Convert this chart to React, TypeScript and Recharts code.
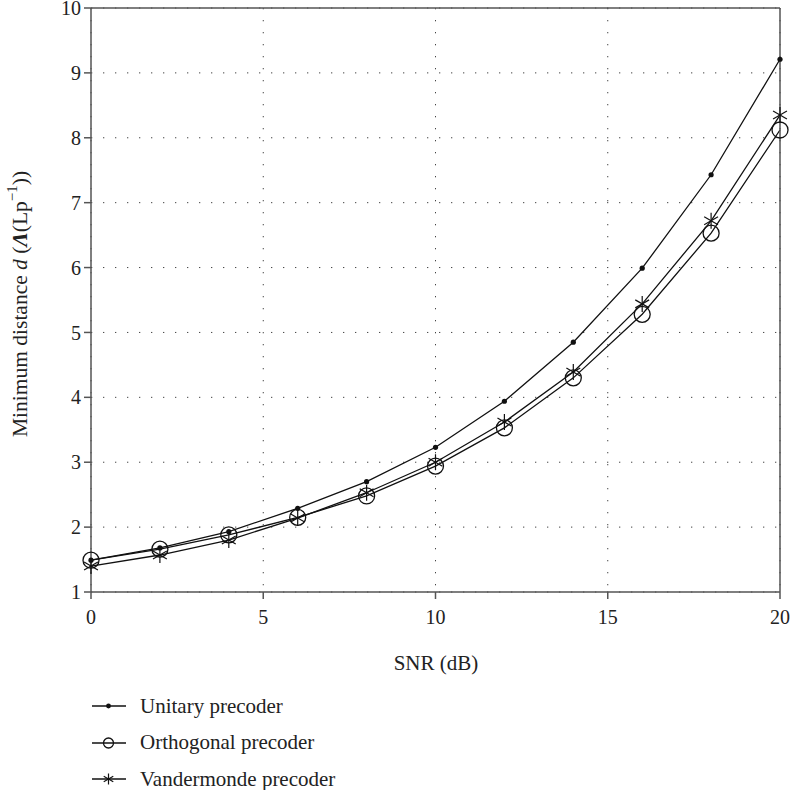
import React from 'react';
import { LineChart, Line, XAxis, YAxis, CartesianGrid } from 'recharts';

const snr = [0, 2, 4, 6, 8, 10, 12, 14, 16, 18, 20];
const unitary = [1.49, 1.68, 1.93, 2.29, 2.7, 3.23, 3.94, 4.85, 5.99, 7.43, 9.21];
const orthogonal = [1.49, 1.66, 1.88, 2.15, 2.48, 2.94, 3.53, 4.3, 5.28, 6.53, 8.12];
const vandermonde = [1.4, 1.57, 1.8, 2.14, 2.53, 3.0, 3.62, 4.39, 5.44, 6.72, 8.35];
const xTicks = [0, 5, 10, 15, 20];
const yTicks = [1, 2, 3, 4, 5, 6, 7, 8, 9, 10];
const seriesNames = ['Unitary precoder', 'Orthogonal precoder', 'Vandermonde precoder'];

const data = snr.map((s, i) => ({ snr: s, u: unitary[i], o: orthogonal[i], v: vandermonde[i] }));

const FONT = '"Liberation Serif", "DejaVu Serif", serif';
const AX = '#555';
const TXT = '#222';

const DotMark = (p: any) => <circle cx={p.cx} cy={p.cy} r={p.size ?? 2.6} fill="#111" />;
const CircleMark = (p: any) => <circle cx={p.cx} cy={p.cy} r={p.size ?? 8} fill="none" stroke="#111" strokeWidth={1.3} />;
const StarMark = (p: any) => {
  const { cx, cy } = p;
  const r = p.size ?? 8;
  const a = Math.PI / 6;
  return (
    <g stroke="#111" strokeWidth={1.2}>
      <line x1={cx} y1={cy - r} x2={cx} y2={cy + r} />
      <line x1={cx - r * Math.cos(a)} y1={cy - r * Math.sin(a)} x2={cx + r * Math.cos(a)} y2={cy + r * Math.sin(a)} />
      <line x1={cx - r * Math.cos(a)} y1={cy + r * Math.sin(a)} x2={cx + r * Math.cos(a)} y2={cy - r * Math.sin(a)} />
    </g>
  );
};

const marks = [DotMark, CircleMark, StarMark];
const legendR = [2.4, 5, 5.5];

const LegendBlock = () => (
  <div style={{ position: 'absolute', left: 92, top: 688, fontFamily: FONT, fontSize: 21, color: TXT }}>
    {seriesNames.map((n, i) => {
      const M = marks[i];
      return (
        <div key={n} style={{ display: 'flex', alignItems: 'center', height: 36.5 }}>
          <svg width={48} height={20}>
            <line x1={0} y1={10} x2={34} y2={10} stroke="#111" strokeWidth={1.3} />
            <M cx={16.5} cy={10} size={legendR[i]} />
          </svg>
          <span style={{ lineHeight: 1 }}>{n}</span>
        </div>
      );
    })}
  </div>
);

const YLabel = () => {
  const cx = 20;
  const cy = 304;
  return (
    <text x={cx} y={cy} transform={`rotate(-90 ${cx} ${cy})`} textAnchor="middle" dominantBaseline="central" fontFamily={FONT} fontSize={21.5} fill={TXT}>
      Minimum distance <tspan fontStyle="italic">d</tspan> (<tspan fontStyle="italic" fontWeight="bold">Λ</tspan>(Lp<tspan baselineShift="super" fontSize={15}>−1</tspan>))
    </text>
  );
};

export default function App() {
  return (
    <div style={{ position: 'absolute', left: 0, top: 0, width: 793, height: 790, background: '#fff' }}>
      <LineChart width={793} height={790} data={data} margin={{ top: 7, right: 12, left: 31, bottom: 158 }}>
        <CartesianGrid stroke="#444" strokeDasharray="1.3 10.7" vertical horizontal />
        <XAxis
          dataKey="snr"
          type="number"
          domain={[0, 20]}
          ticks={xTicks}
          height={40}
          axisLine={{ stroke: AX, strokeWidth: 1.5 }}
          tickLine={{ stroke: AX, strokeWidth: 1.5 }}
          tickSize={7}
          tickMargin={11}
          tick={{ fontFamily: FONT, fontSize: 20, fill: TXT }}
          interval={0}
        />
        <XAxis xAxisId="top" dataKey="snr" type="number" domain={[0, 20]} orientation="top" height={1} tick={false} tickLine={false} axisLine={{ stroke: AX, strokeWidth: 1.5 }} />
        <YAxis
          type="number"
          domain={[1, 10]}
          ticks={yTicks}
          width={60}
          axisLine={{ stroke: AX, strokeWidth: 1.5 }}
          tickLine={{ stroke: AX, strokeWidth: 1.5 }}
          tickSize={7}
          tickMargin={3}
          tick={{ fontFamily: FONT, fontSize: 20, fill: TXT }}
          interval={0}
          label={<YLabel />}
        />
        <YAxis yAxisId="right" orientation="right" type="number" domain={[1, 10]} width={1} tick={false} tickLine={false} axisLine={{ stroke: AX, strokeWidth: 1.5 }} />
        <Line dataKey="u" name={seriesNames[0]} stroke="#111" strokeWidth={1.3} dot={<DotMark />} activeDot={false} isAnimationActive={false} />
        <Line dataKey="o" name={seriesNames[1]} stroke="#111" strokeWidth={1.3} dot={<CircleMark />} activeDot={false} isAnimationActive={false} />
        <Line dataKey="v" name={seriesNames[2]} stroke="#111" strokeWidth={1.3} dot={<StarMark />} activeDot={false} isAnimationActive={false} />
        <text x={436} y={663} textAnchor="middle" dominantBaseline="central" fontFamily={FONT} fontSize={21} fill={TXT}>SNR (dB)</text>
      </LineChart>
      <LegendBlock />
    </div>
  );
}
